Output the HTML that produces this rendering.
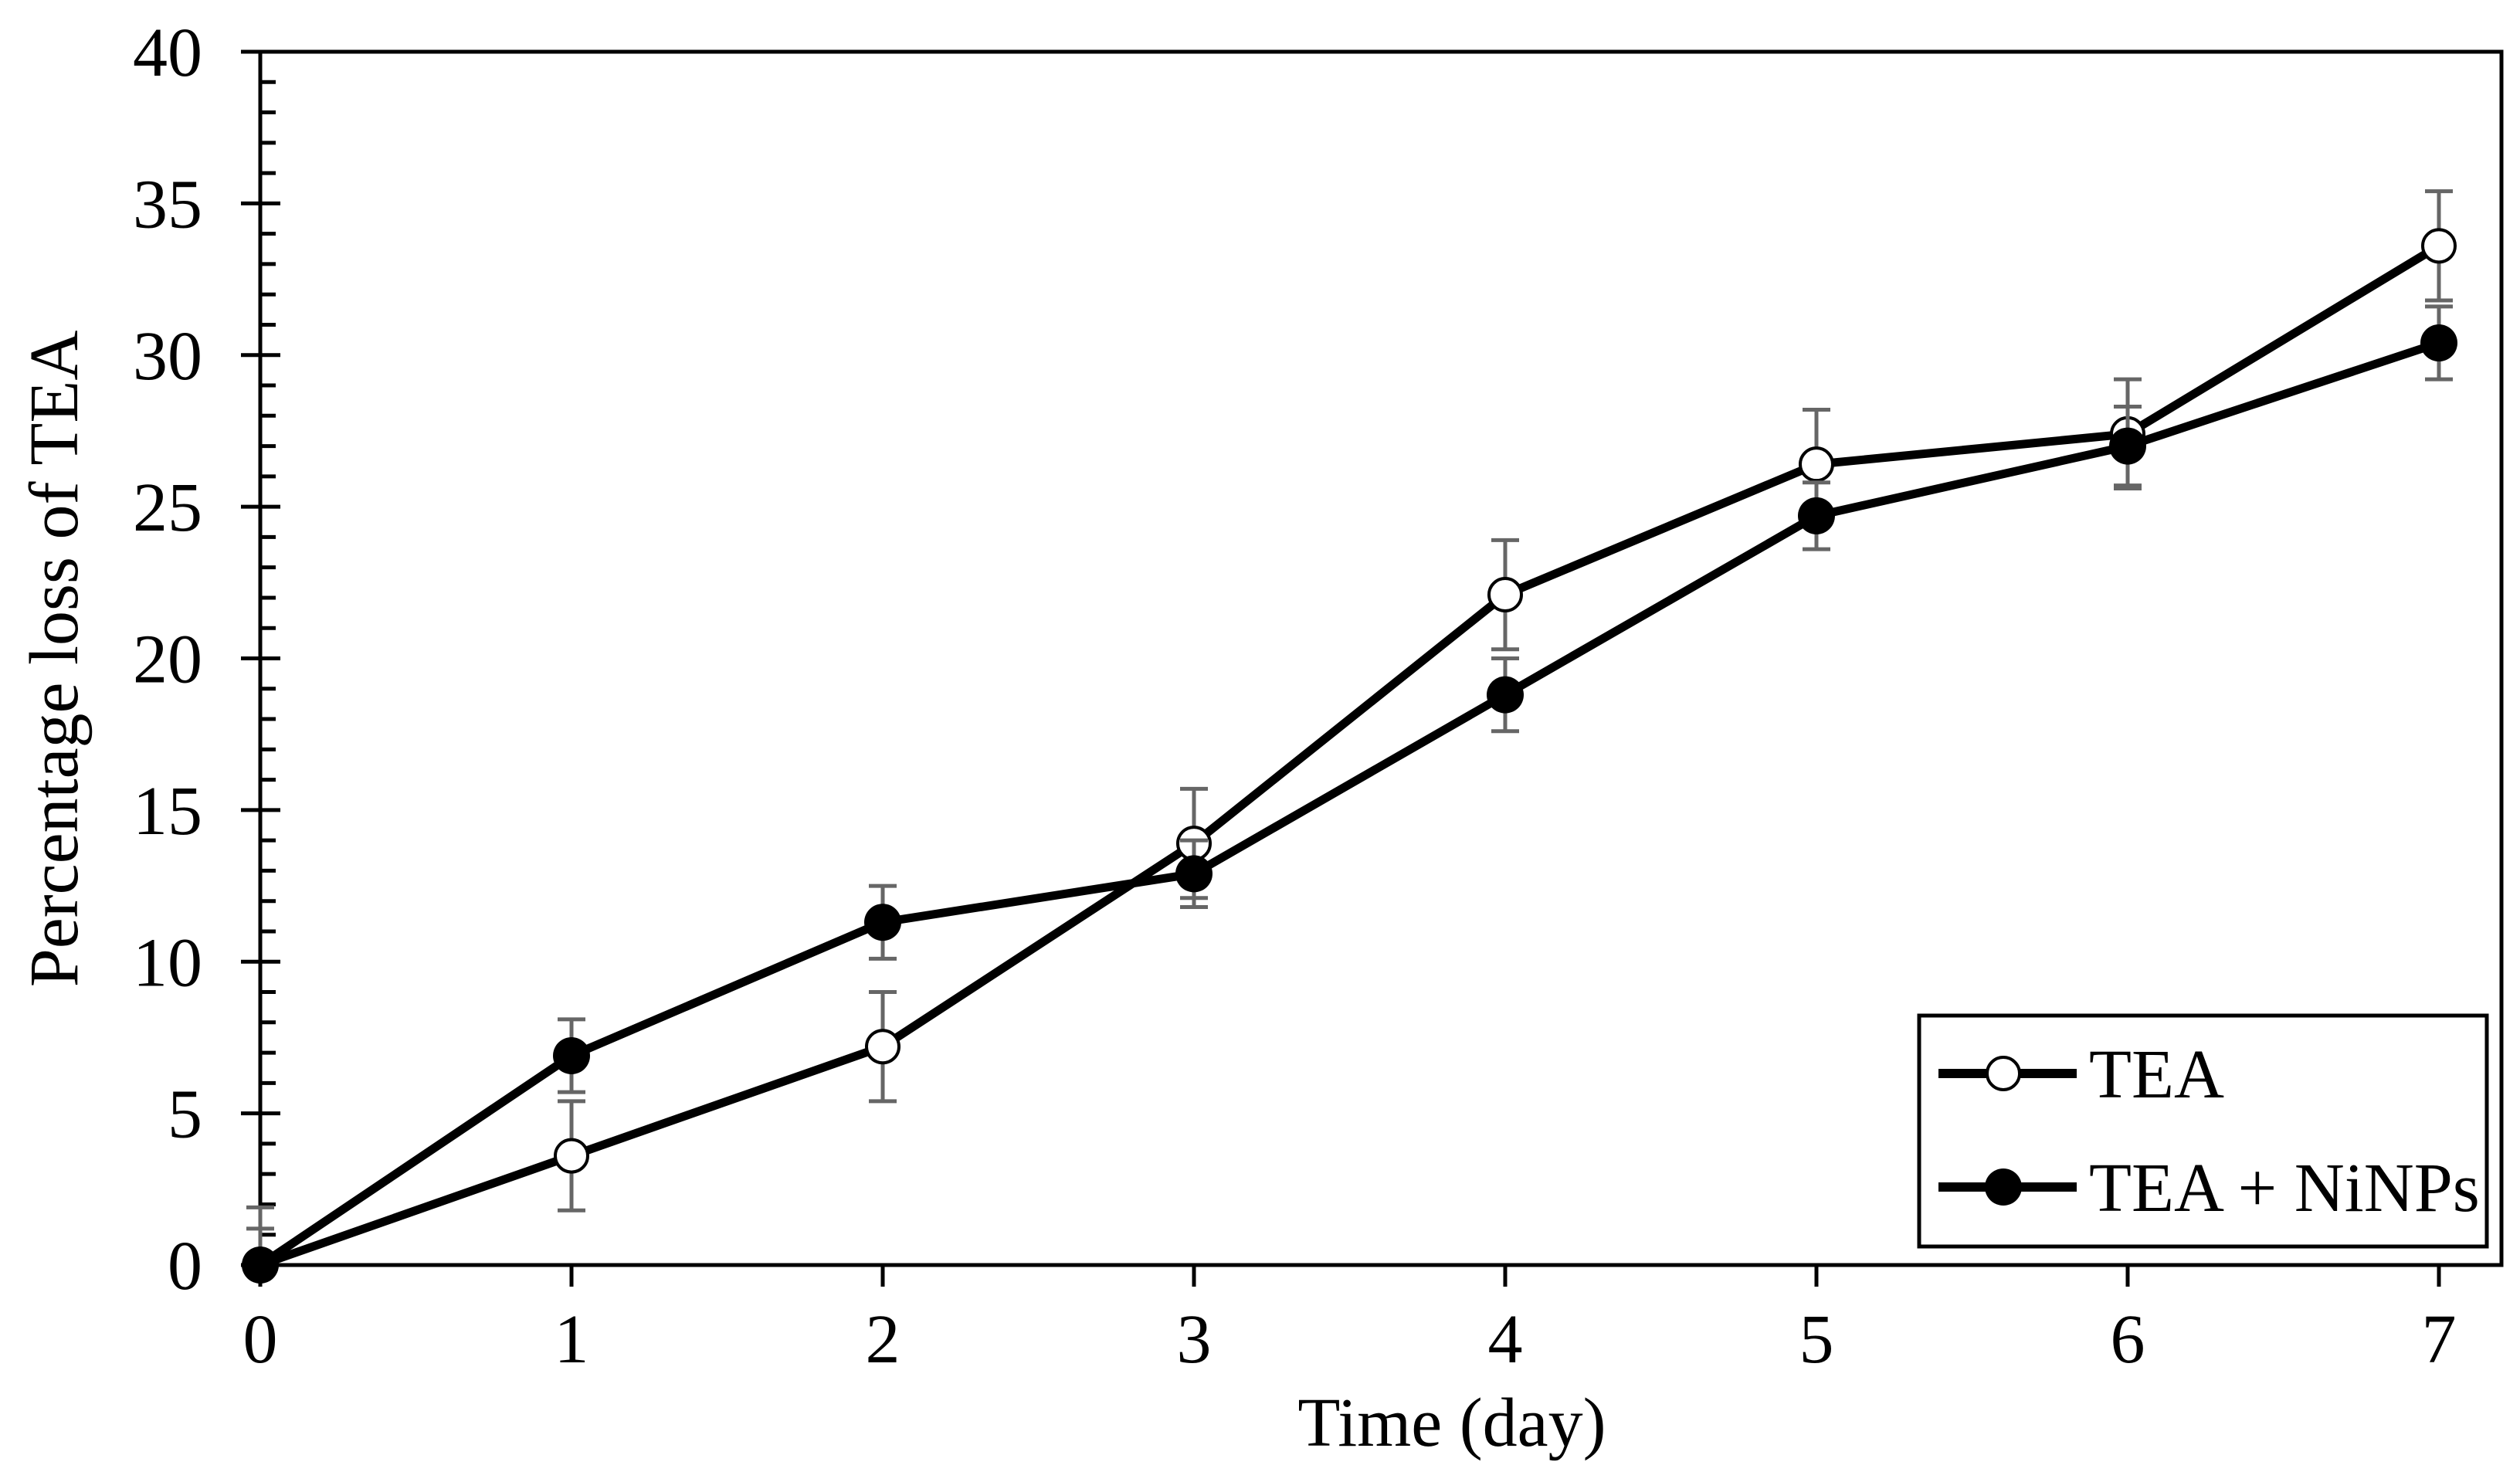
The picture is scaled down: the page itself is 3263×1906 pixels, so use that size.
<!DOCTYPE html>
<html><head><meta charset="utf-8"><style>
html,body{margin:0;padding:0;background:#fff}
svg{display:block}
text{font-family:"Liberation Serif","Times New Roman",serif;fill:#000}
</style></head><body>
<svg id="chart" width="3263" height="1906" viewBox="0 0 3263 1906" xmlns="http://www.w3.org/2000/svg"></svg>
<script>
const days = [0,1,2,3,4,5,6,7];
const teaValues = [0,3.6,7.2,13.9,22.1,26.4,27.4,33.6];
const teaErrors = [1.9,1.8,1.8,1.8,1.8,1.8,1.8,1.8];
const niValues = [0,6.9,11.3,12.9,18.8,24.7,27.0,30.4];
const niErrors = [1.2,1.2,1.2,1.1,1.2,1.1,1.3,1.2];
const yTicks = [0,5,10,15,20,25,30,35,40];
const xTicks = [0,1,2,3,4,5,6,7];

const NS="http://www.w3.org/2000/svg";
const svg=document.getElementById('chart');
const X0=337, XS=403, Y0=1638, YS=(1638-67)/40;
const xs=v=>X0+v*XS, ys=v=>Y0-v*YS;
function el(tag,attrs,parent){const e=document.createElementNS(NS,tag);for(const k in attrs)e.setAttribute(k,attrs[k]);(parent||svg).appendChild(e);return e;}

const defs=el('defs',{});
const cp=el('clipPath',{id:'plotclip'},defs);
el('rect',{x:0,y:0,width:3263,height:Y0},cp);

const axes=el('g',{});


const frame=el('path',{d:`M312 ${ys(40)} H3239 V${Y0} H${X0} V${ys(40)}`,fill:'none',stroke:'#000','stroke-width':5},axes);


for(let v=0;v<=40;v++){
  const major=v%5===0;
  const t=el('line',{x1:major?312:X0,x2:major?363:357,y1:ys(v),y2:ys(v),stroke:'#000','stroke-width':5},axes);
  
  
}
yTicks.forEach(v=>{
  const t=el('text',{x:262,y:ys(v)+31,'font-size':90,'text-anchor':'end'},axes);
  t.textContent=v;
  
  
});
xTicks.forEach(v=>{
  const l=el('line',{x1:xs(v),x2:xs(v),y1:Y0,y2:Y0+28,stroke:'#000','stroke-width':5},axes);
  
  
  const t=el('text',{x:xs(v),y:1764,'font-size':90,'text-anchor':'middle'},axes);
  t.textContent=v;
  
  
});
const xt=el('text',{x:1880,y:1872,'font-size':90,'text-anchor':'middle'});
xt.textContent='Time (day)';


const yt=el('text',{x:0,y:0,'font-size':90,'text-anchor':'middle',transform:'translate(100,853) rotate(-90)'});
yt.textContent='Percentage loss of TEA';



function series(vals,errs,filled,name){
  const g=el('g',{});
  
  
  const eg=el('g',{'clip-path':'url(#plotclip)'},g);
  days.forEach((d,i)=>{
    const x=xs(d),a=ys(vals[i]+errs[i]),b=ys(vals[i]-errs[i]);
    const e=el('path',{d:`M${x} ${a} V${b} M${x-18} ${a} H${x+18} M${x-18} ${b} H${x+18}`,stroke:'#666','stroke-width':5,fill:'none'},eg);
    
    
  });
  const line=el('polyline',{points:days.map((d,i)=>xs(d)+','+ys(vals[i])).join(' '),fill:'none',stroke:'#000','stroke-width':11,'stroke-linejoin':'round'},g);
  
  
  days.forEach((d,i)=>{
    const c=el('circle',{cx:xs(d),cy:ys(vals[i]),r:filled?24:21,fill:filled?'#000':'#fff',stroke:'#000','stroke-width':filled?0:4},g);
    
    
  });
}
series(teaValues,teaErrors,false,'tea');
series(niValues,niErrors,true,'tea-ninps');

const lg=el('g',{});


const lb=el('rect',{x:2485,y:1315,width:735,height:299,fill:'#fff',stroke:'#000','stroke-width':5},lg);


[['TEA',1390,false,'legend-entry-tea'],['TEA + NiNPs',1537,true,'legend-entry-tea-ninps']].forEach(([label,y,f,n])=>{
  const g=el('g',{},lg);
  
  
  el('line',{x1:2510,x2:2689,y1:y,y2:y,stroke:'#000','stroke-width':12},g);
  el('circle',{cx:2594,cy:y,r:f?24:21,fill:f?'#000':'#fff',stroke:'#000','stroke-width':f?0:4},g);
  const t=el('text',{x:2705,y:y+31,'font-size':90},g);
  t.textContent=label;
});
</script>
</body></html>
